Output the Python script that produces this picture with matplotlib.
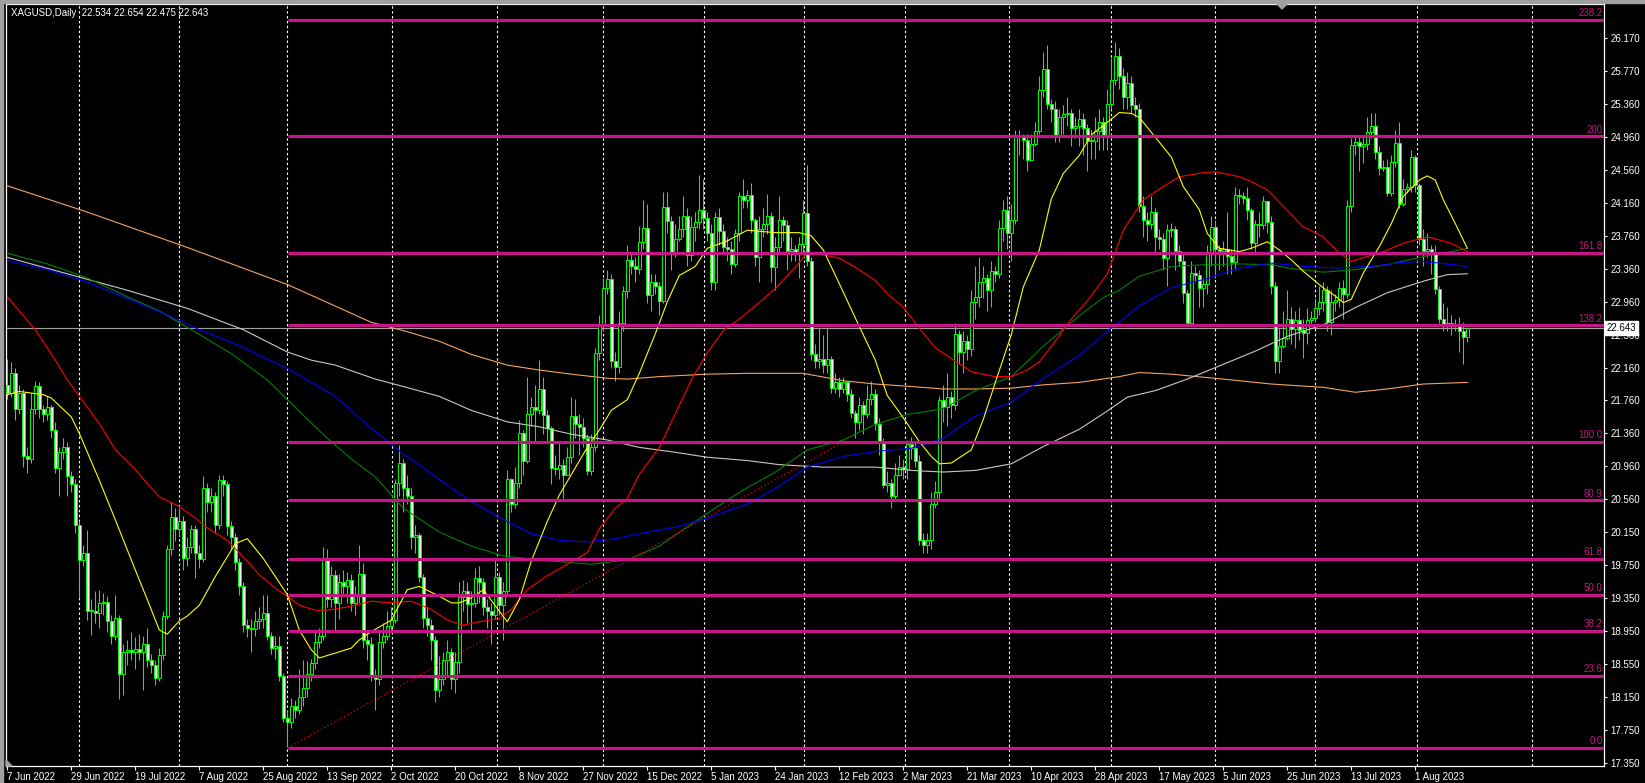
import numpy as np
import matplotlib
matplotlib.use("Agg")
import matplotlib.pyplot as plt
from matplotlib.patches import Rectangle, Polygon
import matplotlib.transforms as mtransforms

# ---------------- data ----------------
title_text = "XAGUSD,Daily  22.534 22.654 22.475 22.643"
first_open = 21.95
last_price = 22.643

close = [
 21.85, 22.10, 21.66, 21.85, 21.08, 21.05, 21.66, 21.93, 21.66, 21.60,
 21.68, 21.40, 20.94, 21.13, 21.20, 20.84, 20.75, 20.25, 19.82, 19.90,
 19.20, 19.20, 19.18, 19.30, 19.31, 19.08, 18.90, 19.12, 18.43, 18.70,
 18.73, 18.70, 18.74, 18.70, 18.80, 18.60, 18.55, 18.39, 18.67, 19.14,
 19.95, 20.34, 20.20, 20.30, 19.85, 19.98, 20.20, 19.90, 19.83, 20.70,
 20.52, 20.60, 20.25, 20.79, 20.75, 20.23, 20.10, 19.80, 19.50, 19.03,
 19.00, 18.98, 19.08, 19.10, 19.18, 18.90, 18.75, 18.77, 18.41, 17.90,
 17.85, 18.05, 18.00, 18.15, 18.26, 18.43, 18.57, 18.83, 18.90, 19.84,
 19.35, 19.64, 19.30, 19.55, 19.50, 19.58, 19.30, 19.40, 19.65, 18.85,
 18.80, 18.42, 18.37, 18.83, 18.90, 19.02, 19.09, 20.76, 21.00, 20.70,
 20.60, 20.10, 20.12, 19.62, 19.12, 19.03, 18.85, 18.24, 18.38, 18.60,
 18.70, 18.38, 18.58, 19.37, 19.45, 19.28, 19.30, 19.60, 19.55, 19.25,
 19.20, 19.15, 19.62, 19.27, 19.45, 20.80, 20.50, 20.76, 21.37, 21.03,
 21.60, 21.68, 21.65, 21.90, 21.58, 21.42, 20.94, 20.93, 20.98, 20.85,
 21.07, 21.57, 21.47, 21.44, 21.30, 20.90, 21.20, 22.34, 22.68, 23.13,
 23.24, 22.24, 22.17, 22.70, 23.09, 23.47, 23.40, 23.36, 23.69, 23.86,
 23.04, 23.20, 23.15, 22.97, 24.11, 23.94, 23.57, 23.72, 23.84, 24.00,
 23.53, 23.87, 23.93, 24.07, 23.98, 23.80, 23.20, 23.99, 23.82, 23.63,
 23.60, 23.42, 23.79, 24.24, 24.20, 24.26, 23.95, 23.50, 23.85, 23.90,
 24.00, 23.38, 23.62, 23.95, 23.89, 23.58, 23.60, 23.55, 23.66, 24.04,
 23.46, 22.33, 22.24, 22.26, 22.19, 22.26, 21.91, 21.99, 21.90, 21.99,
 21.84, 21.61, 21.50, 21.70, 21.60, 21.78, 21.84, 21.48, 21.24, 20.73,
 20.76, 20.60, 20.86, 20.95, 20.93, 21.23, 21.18, 21.03, 20.07, 20.00,
 20.07, 20.50, 20.65, 21.76, 21.68, 21.80, 21.70, 22.57, 22.35, 22.48,
 22.38, 22.96, 23.02, 23.20, 23.25, 23.10, 23.33, 23.30, 23.86, 24.08,
 23.80, 23.95, 24.97, 24.96, 24.93, 24.68, 24.88, 25.04, 25.53, 25.79,
 25.37, 25.30, 24.99, 25.20, 25.24, 25.26, 25.07, 25.10, 25.18, 25.07,
 24.91, 24.92, 25.04, 25.15, 24.97, 25.36, 25.66, 25.95, 25.70, 25.45,
 25.62, 25.35, 25.30, 24.13, 23.96, 23.90, 24.05, 23.75, 23.72, 23.49,
 23.83, 23.84, 23.58, 23.45, 23.07, 22.70, 23.31, 23.28, 23.13, 23.17,
 23.54, 23.87, 23.60, 23.58, 23.60, 23.52, 23.44, 24.26, 24.24, 24.22,
 24.07, 23.67, 23.91, 23.89, 24.18, 23.93, 23.15, 22.24, 22.42, 22.52,
 22.75, 22.63, 22.74, 22.62, 22.58, 22.74, 22.76, 22.88, 22.96, 23.10,
 22.71, 22.96, 22.98, 23.13, 23.06, 24.12, 24.86, 24.90, 24.85, 24.88,
 25.02, 25.10, 24.78, 24.58, 24.60, 24.28, 24.66, 24.89, 24.15, 24.33,
 24.35, 24.72, 24.38, 23.72, 23.58, 23.60, 23.55, 23.12, 22.75, 22.68,
 22.70, 22.67, 22.68, 22.60, 22.534, 22.643]

high = [
 22.27, 22.23, 22.15, 21.95, 21.90, 21.20, 21.85, 22.00, 21.98, 21.70,
 21.82, 21.70, 21.50, 21.20, 21.30, 21.25, 20.90, 20.80, 20.30, 20.00,
 20.19, 19.35, 19.45, 19.46, 19.42, 19.38, 19.15, 19.39, 19.15, 18.80,
 18.85, 18.95, 18.88, 18.92, 18.90, 19.00, 18.68, 18.60, 18.75, 19.20,
 20.00, 20.52, 20.45, 20.45, 20.35, 20.10, 20.25, 20.25, 20.00, 20.84,
 20.76, 20.70, 20.65, 20.86, 20.86, 20.78, 20.30, 20.15, 19.85, 19.55,
 19.10, 19.10, 19.20, 19.25, 19.39, 19.40, 18.95, 18.90, 18.90, 18.45,
 18.00, 18.14, 18.12, 18.50, 18.60, 18.59, 18.62, 18.95, 19.00, 19.98,
 19.95, 19.75, 19.70, 19.65, 19.70, 19.68, 19.65, 19.50, 20.00, 19.79,
 18.95, 18.88, 18.50, 18.95, 19.05, 19.20, 19.25, 20.80, 21.22, 21.05,
 20.85, 20.70, 20.25, 20.15, 19.65, 19.25, 19.10, 18.90, 18.65, 18.70,
 18.85, 18.75, 18.70, 19.55, 19.58, 19.55, 19.45, 19.72, 19.75, 19.60,
 19.35, 19.30, 19.85, 19.68, 19.55, 20.92, 20.82, 20.95, 21.52, 21.40,
 22.05, 21.80, 21.95, 22.25, 22.05, 21.65, 21.45, 21.10, 21.25, 21.05,
 21.20, 21.80, 21.78, 21.60, 21.55, 21.35, 21.35, 22.40, 22.80, 23.25,
 23.35, 23.30, 22.35, 22.85, 23.15, 23.65, 23.55, 23.50, 23.88, 24.20,
 24.15, 23.30, 23.30, 23.20, 24.30, 24.30, 24.00, 23.90, 24.00, 24.25,
 24.10, 24.00, 24.05, 24.50, 24.45, 24.05, 23.90, 24.05, 24.10, 23.90,
 23.75, 23.70, 23.85, 24.30, 24.45, 24.32, 24.40, 23.98, 24.00, 24.10,
 24.27, 24.05, 23.75, 24.25, 24.00, 23.95, 23.75, 23.65, 23.75, 24.20,
 24.62, 23.50, 22.45, 22.65, 22.55, 22.65, 22.30, 22.10, 22.05, 22.05,
 22.00, 21.90, 21.65, 21.80, 21.75, 21.95, 22.00, 21.90, 21.55, 21.30,
 20.90, 20.80, 21.00, 21.10, 21.05, 21.28, 21.32, 21.25, 21.10, 20.15,
 20.15, 20.65, 20.78, 21.82, 21.95, 22.10, 21.88, 22.70, 22.62, 22.60,
 22.55, 23.10, 23.40, 23.50, 23.40, 23.30, 23.45, 23.40, 23.95, 24.20,
 24.25, 24.15, 25.05, 25.05, 25.00, 25.00, 25.00, 25.15, 25.70, 26.00,
 26.08, 25.42, 25.40, 25.30, 25.35, 25.45, 25.30, 25.20, 25.30, 25.25,
 25.12, 25.05, 25.20, 25.30, 25.20, 25.55, 25.92, 26.12, 26.05, 25.80,
 25.75, 25.70, 25.45, 25.38, 24.25, 24.05, 24.25, 24.10, 23.85, 23.80,
 23.90, 23.92, 23.88, 23.65, 23.55, 23.10, 23.45, 23.40, 23.35, 23.25,
 23.65, 24.00, 23.95, 23.65, 23.70, 24.05, 23.60, 24.36, 24.33, 24.30,
 24.35, 24.10, 23.95, 24.05, 24.25, 24.15, 24.00, 23.20, 22.65, 22.85,
 23.10, 22.90, 22.85, 22.90, 22.75, 22.88, 22.85, 23.00, 23.15, 23.20,
 23.15, 23.10, 23.05, 23.20, 23.22, 24.20, 24.95, 24.97, 24.96, 24.98,
 25.20, 25.25, 25.25, 24.85, 24.68, 24.70, 24.75, 25.05, 25.15, 24.45,
 24.40, 24.80, 24.75, 24.40, 23.85, 23.80, 23.65, 23.65, 23.15, 22.95,
 22.90, 22.80, 22.75, 22.78, 22.72, 22.654]

low = [
 21.78, 21.80, 21.52, 21.60, 20.95, 20.88, 21.00, 21.60, 21.55, 21.50,
 21.52, 21.30, 20.88, 20.60, 21.05, 20.60, 20.65, 20.15, 19.36, 19.75,
 19.09, 18.91, 19.05, 19.00, 19.15, 18.95, 18.80, 18.85, 18.13, 18.18,
 18.55, 18.60, 18.50, 18.60, 18.24, 18.52, 18.45, 18.30, 18.35, 18.60,
 19.10, 19.88, 20.05, 20.10, 19.70, 19.75, 19.90, 19.60, 19.72, 19.80,
 20.40, 20.40, 20.15, 20.20, 20.60, 20.12, 19.95, 19.70, 19.40, 18.95,
 18.88, 18.70, 18.90, 18.98, 19.00, 18.85, 18.68, 18.62, 18.35, 17.85,
 17.55, 17.78, 17.90, 17.95, 18.05, 18.15, 18.35, 18.50, 18.75, 18.85,
 19.25, 19.25, 18.95, 19.10, 19.40, 19.30, 19.20, 19.15, 19.30, 18.75,
 18.60, 18.35, 18.00, 18.30, 18.75, 18.85, 18.95, 19.05, 20.60, 20.40,
 20.50, 19.95, 19.90, 19.55, 19.00, 18.90, 18.60, 18.10, 18.15, 18.30,
 18.40, 18.25, 18.20, 18.45, 19.20, 19.05, 18.95, 19.25, 19.30, 19.15,
 19.00, 18.80, 19.10, 19.15, 18.85, 19.40, 20.40, 20.45, 20.70, 20.85,
 21.00, 21.45, 21.25, 21.60, 21.35, 21.25, 20.75, 20.85, 20.80, 20.55,
 20.85, 21.00, 21.30, 21.10, 21.20, 20.85, 20.85, 21.15, 22.25, 22.60,
 23.05, 22.15, 22.00, 22.10, 22.60, 23.00, 23.30, 23.20, 23.30, 23.60,
 22.95, 22.85, 23.05, 22.80, 22.95, 23.80, 23.35, 23.50, 23.70, 23.75,
 23.40, 23.45, 23.70, 23.85, 23.85, 23.70, 23.10, 23.10, 23.65, 23.55,
 23.45, 23.30, 23.38, 23.70, 24.10, 24.10, 23.80, 23.40, 23.20, 23.75,
 23.78, 23.20, 23.10, 23.55, 23.70, 23.35, 23.45, 23.45, 23.25, 23.55,
 23.40, 22.25, 22.15, 22.15, 22.10, 22.10, 21.85, 21.85, 21.80, 21.85,
 21.75, 21.55, 21.30, 21.40, 21.35, 21.55, 21.70, 21.40, 21.10, 20.70,
 20.65, 20.45, 20.55, 20.85, 20.80, 20.80, 21.05, 20.95, 20.00, 19.90,
 19.90, 19.95, 20.45, 20.55, 21.50, 21.45, 21.55, 21.65, 22.20, 22.10,
 22.25, 22.30, 22.75, 22.90, 23.00, 22.85, 22.90, 23.20, 23.25, 23.70,
 23.60, 23.45, 23.90, 24.75, 24.70, 24.55, 24.70, 24.85, 25.00, 25.45,
 25.30, 25.15, 24.90, 24.90, 25.00, 25.10, 24.85, 24.95, 24.85, 24.75,
 24.55, 24.70, 24.70, 24.80, 24.80, 24.80, 25.30, 25.60, 25.55, 25.30,
 25.30, 25.25, 25.20, 24.05, 23.75, 23.70, 23.85, 23.55, 23.60, 23.35,
 23.15, 23.75, 23.35, 23.40, 22.95, 22.68, 22.68, 23.20, 22.90, 22.90,
 23.05, 23.40, 23.25, 23.35, 23.40, 23.30, 23.30, 23.35, 24.15, 24.15,
 23.95, 23.60, 23.55, 23.75, 23.85, 23.80, 23.05, 22.10, 22.10, 22.40,
 22.50, 22.45, 22.40, 22.50, 22.28, 22.45, 22.68, 22.72, 22.80, 22.85,
 22.60, 22.55, 22.85, 22.90, 22.75, 23.00, 24.05, 24.75, 24.55, 24.65,
 24.80, 24.95, 24.70, 24.50, 24.55, 24.25, 24.25, 24.60, 24.10, 24.12,
 24.28, 24.30, 24.30, 23.65, 23.40, 23.50, 23.30, 23.05, 22.70, 22.60,
 22.60, 22.55, 22.60, 22.35, 22.20, 22.475]

# moving averages: (bar index, value)
ma_yellow_x = [0, 3, 9, 11, 16, 18, 23, 27, 32, 35, 38, 40, 43, 45, 48, 52, 57, 60, 64, 67, 70, 73, 76, 78, 82, 86, 88, 91,
               96, 100, 103, 108, 111, 113, 116, 119, 123, 125, 128, 131, 135, 138, 141, 145, 148, 151, 155, 158, 162,
               165, 168, 172, 175, 180, 185, 192, 198, 201, 204, 208, 213, 217, 220, 224, 228, 231, 233, 236, 241, 244,
               247, 251, 254, 258, 261, 264, 268, 271, 275, 278, 281, 283, 287, 291, 294, 298, 300, 303, 308, 311, 315,
               318, 321, 324, 329, 332, 334, 336, 339, 343, 346, 349, 353, 355, 357, 359, 362, 365]
ma_yellow_y = [21.83, 21.87, 21.83, 21.79, 21.56, 21.36, 20.79, 20.31, 19.70, 19.34, 18.97, 18.92, 19.08, 19.14, 19.27,
               19.62, 20.02, 20.08, 19.84, 19.62, 19.40, 18.97, 18.73, 18.63, 18.69, 18.75, 18.85, 18.95,
               19.09, 19.46, 19.50, 19.38, 19.30, 19.30, 19.36, 19.46, 19.20, 19.07, 19.34, 19.81, 20.29, 20.61, 20.86,
               21.19, 21.40, 21.64, 21.77, 22.09, 22.57, 22.96, 23.28, 23.39, 23.61, 23.70, 23.83, 23.80, 23.80, 23.76,
               23.59, 23.18, 22.66, 22.25, 21.82, 21.55, 21.26, 21.08, 20.99, 21.00, 21.16, 21.53, 21.98, 22.56, 23.14,
               23.59, 24.21, 24.52, 24.74, 24.99, 25.14, 25.26, 25.25, 25.20, 24.96, 24.72, 24.36, 24.08, 23.79, 23.61,
               23.57, 23.61, 23.69, 23.59, 23.47, 23.33, 23.13, 23.03, 22.95, 22.99, 23.31, 23.63, 23.91, 24.24, 24.44,
               24.49, 24.44, 24.20, 23.91, 23.61]

ma_red_x = [0, 7, 12, 15, 18, 23, 27, 32, 35, 38, 43, 47, 50, 55, 59, 63, 67, 70, 73, 77, 80, 85, 91, 96, 101, 106, 110,
            114, 118, 123, 126, 130, 135, 140, 145, 148, 152, 155, 158, 163, 167, 171, 175, 179, 183, 187, 192, 197, 200,
            204, 208, 212, 217, 220, 224, 228, 232, 236, 241, 247, 251, 255, 258, 262, 266, 270, 275, 279, 284, 289, 293,
            299, 302, 308, 311, 315, 319, 324, 329, 333, 336, 340, 344, 349, 354, 356, 361, 365]
ma_red_y = [23.02, 22.62, 22.25, 22.01, 21.81, 21.48, 21.16, 20.92, 20.75, 20.59, 20.47, 20.33, 20.21, 20.06, 19.86, 19.64,
            19.48, 19.38, 19.27, 19.21, 19.21, 19.25, 19.32, 19.30, 19.32, 19.22, 19.09, 19.03, 19.07, 19.11, 19.22, 19.46,
            19.63, 19.77, 19.91, 20.20, 20.45, 20.57, 20.86, 21.19, 21.60, 22.01, 22.34, 22.61, 22.75, 22.91, 23.12, 23.38,
            23.55, 23.53, 23.49, 23.38, 23.22, 23.06, 22.89, 22.64, 22.40, 22.27, 22.11, 22.05, 22.05, 22.13, 22.23, 22.48,
            22.75, 22.97, 23.30, 23.83, 24.20, 24.36, 24.48, 24.53, 24.54, 24.48, 24.42, 24.32, 24.12, 23.87, 23.75, 23.55,
            23.45, 23.51, 23.57, 23.67, 23.74, 23.74, 23.67, 23.57]

ma_green_x = [0, 10, 20, 30, 38, 46, 56, 65, 70, 80, 86, 92, 99, 108, 116, 124, 133, 141, 146, 155, 163, 172, 180, 185,
              192, 200, 209, 217, 225, 234, 242, 251, 259, 268, 274, 278, 283, 291, 299, 308, 316, 320, 329, 337, 345,
              354, 362, 365]
ma_green_y = [23.55, 23.42, 23.25, 23.02, 22.85, 22.62, 22.33, 22.01, 21.77, 21.30, 21.05, 20.83, 20.45, 20.16, 19.99,
              19.87, 19.82, 19.79, 19.77, 19.82, 19.99, 20.29, 20.55, 20.70, 20.89, 21.16, 21.28, 21.47, 21.59, 21.66,
              21.88, 22.05, 22.42, 22.79, 23.01, 23.10, 23.27, 23.39, 23.41, 23.42, 23.41, 23.37, 23.32, 23.35, 23.41,
              23.51, 23.58, 23.61]

ma_blue_x = [0, 10, 20, 30, 40, 48, 56, 70, 82, 90, 99, 108, 116, 125, 131, 138, 145, 152, 158, 167, 175, 185, 192, 200,
             209, 217, 226, 234, 242, 251, 259, 268, 275, 283, 291, 299, 308, 316, 324, 333, 341, 349, 354, 358, 365]
ma_blue_y = [23.46, 23.35, 23.20, 23.00, 22.80, 22.62, 22.47, 22.15, 21.81, 21.46, 21.11, 20.80, 20.53, 20.29, 20.14,
             20.06, 20.04, 20.08, 20.14, 20.22, 20.33, 20.50, 20.69, 20.95, 21.08, 21.14, 21.18, 21.30, 21.57, 21.74,
             22.03, 22.31, 22.60, 22.91, 23.13, 23.23, 23.37, 23.43, 23.39, 23.37, 23.39, 23.44, 23.45, 23.43, 23.39]

ma_white_x = [0, 15, 30, 45, 59, 70, 76, 82, 92, 99, 108, 116, 125, 133, 141, 150, 158, 167, 175, 185, 193, 204, 217,
              226, 234, 242, 251, 259, 268, 274, 280, 287, 295, 304, 312, 320, 329, 337, 345, 354, 360, 365]
ma_white_y = [23.50, 23.30, 23.10, 22.88, 22.62, 22.35, 22.25, 22.19, 22.02, 21.93, 21.81, 21.64, 21.50, 21.44, 21.35,
              21.28, 21.19, 21.13, 21.07, 21.03, 20.98, 20.95, 20.95, 20.91, 20.89, 20.91, 20.99, 21.20, 21.41, 21.60,
              21.80, 21.88, 22.02, 22.20, 22.36, 22.54, 22.68, 22.89, 23.07, 23.21, 23.29, 23.30]

ma_orange_x = [0, 20, 45, 70, 91, 99, 108, 116, 125, 133, 141, 150, 155, 163, 175, 185, 199, 209, 217, 226, 234, 242,
               251, 259, 268, 278, 283, 291, 304, 316, 329, 337, 345, 354, 365]
ma_orange_y = [24.37, 24.05, 23.62, 23.17, 22.71, 22.61, 22.48, 22.32, 22.19, 22.13, 22.08, 22.03, 22.02, 22.05, 22.08,
               22.09, 22.09, 22.00, 21.96, 21.93, 21.90, 21.90, 21.91, 21.95, 21.98, 22.05, 22.10, 22.08, 22.02, 21.96,
               21.92, 21.86, 21.90, 21.96, 21.98]

# Fibonacci retracement
fib_start_bar = 70.1
fib_end_bar = 209
fib_low = 17.539
fib_high = 21.255
fib_levels = [0.0, 23.6, 38.2, 50.0, 61.8, 80.9, 100.0, 138.2, 161.8, 200.0, 238.2]
fib_texts = ["0.0", "23.6", "38.2", "50.0", "61.8", "80.9", "100.0", "138.2", "161.8", "200", "238.2"]

# axes texts
date_labels = ["7 Jun 2022", "29 Jun 2022", "19 Jul 2022", "7 Aug 2022", "25 Aug 2022", "13 Sep 2022",
               "2 Oct 2022", "20 Oct 2022", "8 Nov 2022", "27 Nov 2022", "15 Dec 2022", "5 Jan 2023",
               "24 Jan 2023", "12 Feb 2023", "2 Mar 2023", "21 Mar 2023", "10 Apr 2023", "28 Apr 2023",
               "17 May 2023", "5 Jun 2023", "25 Jun 2023", "13 Jul 2023", "1 Aug 2023"]
bars_per_label = 16
price_labels = ["17.350", "17.750", "18.150", "18.550", "18.950", "19.350", "19.750", "20.150", "20.560",
                "20.960", "21.360", "21.760", "22.160", "22.560", "22.960", "23.360", "23.760", "24.160",
                "24.560", "24.960", "25.360", "25.770", "26.170"]
grid_bars = [18.0, 43.0, 70.0, 96.2, 122.5, 148.8, 174.2, 199.2, 224.5, 250.5, 276.0, 302.0, 327.0, 352.5, 381.1]

# ---------------- figure ----------------
W, H = 1645, 783
fig = plt.figure(figsize=(W / 100, H / 100), dpi=100, facecolor="black")
ax_l, ax_r, ax_t, ax_b = 5.5, 1604.0, 4.3, 766.0
ax = fig.add_axes([ax_l / W, (H - ax_b) / H, (ax_r - ax_l) / W, (ax_b - ax_t) / H])
ax.set_facecolor("black")

px_per_bar = 4.0
x0_px = 7.3
ax.set_xlim((ax_l - x0_px) / px_per_bar, (ax_r - x0_px) / px_per_bar)
pp = 0.012156  # price per pixel
ax.set_ylim(26.170 - (ax_b - 37.7) * pp, 26.170 + (37.7 - ax_t) * pp)

for s in ax.spines.values():
    s.set_color("white")
    s.set_linewidth(0.9)

FONT = ["Liberation Sans", "DejaVu Sans"]
LIME = "#00FF00"

# grid
for g in grid_bars:
    ax.axvline(g, color="white", lw=0.8, ls=(0, (2.2, 2.2)), zorder=1)

# candles
n = min(len(close), len(high), len(low))
c = np.array(close[:n], dtype=float)
o = np.concatenate([[first_open], c[:-1]])
h = np.maximum(np.array(high[:n], dtype=float), np.maximum(o, c))
l = np.minimum(np.array(low[:n], dtype=float), np.minimum(o, c))
xs = np.arange(n)
ax.vlines(xs, l, h, color=LIME, lw=0.75, zorder=2)
body_lo = np.minimum(o, c)
body_h = np.maximum(np.abs(c - o), 0.012)
fills = np.where(c < o, "white", "black")
ax.bar(xs, body_h, bottom=body_lo, width=0.72, color=fills, edgecolor=LIME, linewidth=0.7, zorder=3)

# last price line
ax.axhline(last_price, color="#a0a0a0", lw=0.8, zorder=1.5)

# moving averages
ma_lw = 0.8
ax.plot(ma_orange_x, ma_orange_y, color="#F4A460", lw=ma_lw, zorder=4)
ax.plot(ma_white_x, ma_white_y, color="#C8C8C8", lw=ma_lw, zorder=4)
ax.plot(ma_green_x, ma_green_y, color="#008000", lw=ma_lw, zorder=4)
ax.plot(ma_blue_x, ma_blue_y, color="#0000FF", lw=ma_lw, zorder=4)
ax.plot(ma_red_x, ma_red_y, color="#FF0000", lw=ma_lw, zorder=4)
ax.plot(ma_yellow_x, ma_yellow_y, color="#FFFF00", lw=ma_lw, zorder=4)

# fibonacci
FIB = "#C71585"
xmax = ax.get_xlim()[1]
for lev, txt in zip(fib_levels, fib_texts):
    p = fib_low + lev / 100.0 * (fib_high - fib_low)
    ax.plot([fib_start_bar, xmax], [p, p], color=FIB, lw=2.3, zorder=5, solid_capstyle="butt")
    ax.annotate(txt, xy=(xmax, p), xytext=(-1, 1.2), textcoords="offset points", ha="right", va="bottom",
                color=FIB, fontsize=7, family=FONT, zorder=6, annotation_clip=False)
ax.plot([fib_start_bar, fib_end_bar], [fib_low, fib_high], color="#FF0000", lw=0.8,
        ls=(0, (1.2, 2.2)), zorder=5)

# axes ticks and labels
ax.yaxis.tick_right()
tick_vals = np.linspace(17.35, 26.17, len(price_labels))
ax.set_yticks(tick_vals)
ax.set_yticklabels(price_labels)
ax.tick_params(axis="y", colors="white", length=2.5, width=0.8, pad=2, labelsize=7)
xt = [k * bars_per_label for k in range(len(date_labels))]
ax.set_xticks(xt)
ax.set_xticklabels(date_labels, ha="left")
ax.tick_params(axis="x", colors="white", length=3, width=0.8, pad=1.5, labelsize=7)
for lab in ax.get_xticklabels() + ax.get_yticklabels():
    lab.set_family(FONT)
    lab.set_color("white")

# price box on the right axis
trans = mtransforms.blended_transform_factory(ax.transAxes, ax.transData)
ax.text(1.0017, last_price, f"{last_price:.3f}", transform=trans, ha="left", va="center", fontsize=7,
        family=FONT, color="black", zorder=10, clip_on=False,
        bbox=dict(boxstyle="square,pad=0.18", fc="white", ec="white"))

# title
fig.text(11 / W, 1 - 13 / H, title_text, color="white", fontsize=7, family=FONT, ha="left", va="center")

# window chrome
fig.patches.append(Rectangle((0, 1 - 3 / H), 1, 3 / H, transform=fig.transFigure, color="#a0a0a0", zorder=0))
fig.patches.append(Rectangle((0, 0), 3 / W, 1, transform=fig.transFigure, color="#a0a0a0", zorder=0))
fig.patches.append(Polygon([[1277 / W, 1 - 4 / H], [1287 / W, 1 - 4 / H], [1282 / W, 1 - 9 / H]],
                           closed=True, transform=fig.transFigure, color="#a0a0a0", zorder=5))
fig.patches.append(Polygon([[6 / W, (H - 766) / H], [12 / W, (H - 766) / H], [6 / W, (H - 760) / H]],
                           closed=True, transform=fig.transFigure, color="#a0a0a0", zorder=5))

fig.savefig("out.png", dpi=100, facecolor="black")
